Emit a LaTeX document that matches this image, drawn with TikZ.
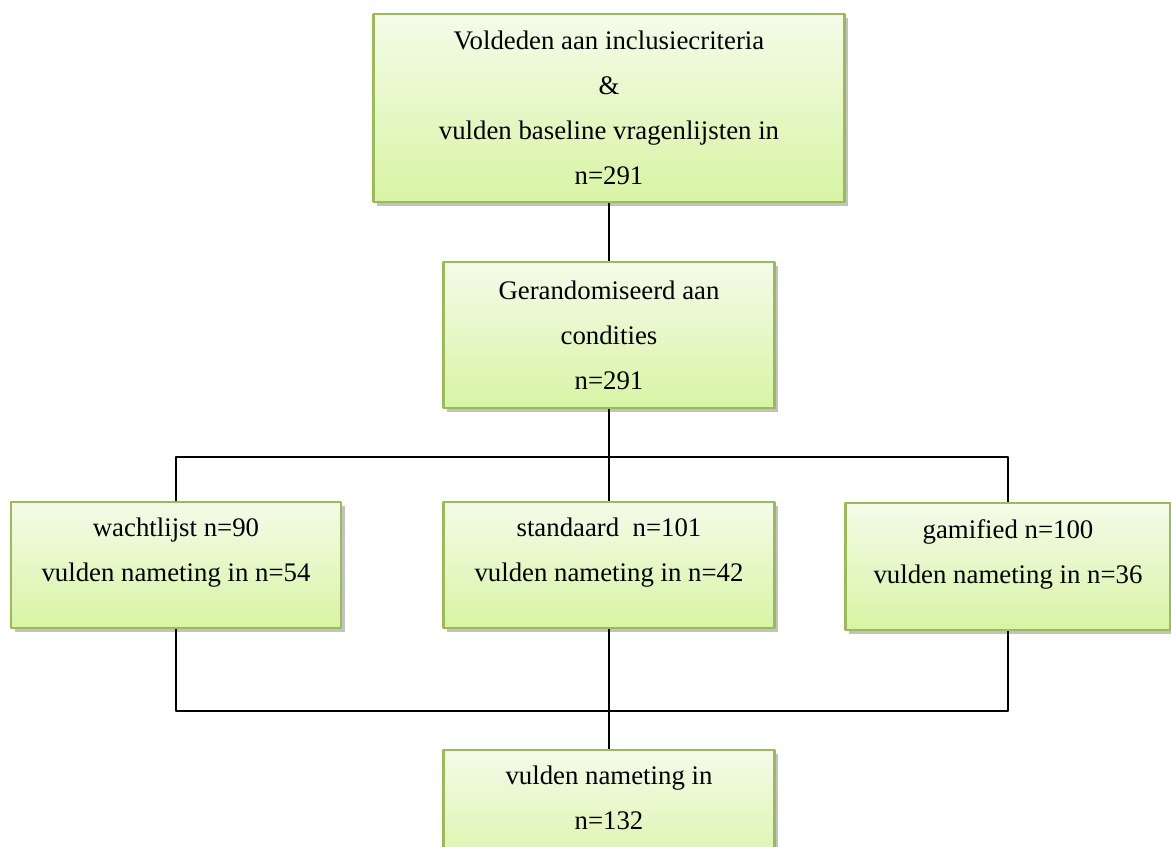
\documentclass[tikz,border=0pt]{standalone}
\usepackage{fontspec}
\setmainfont{Liberation Serif}
\usetikzlibrary{shadows}
\definecolor{boxtop}{HTML}{F4FBE9}
\definecolor{boxbot}{HTML}{D8F4A4}
\definecolor{boxline}{HTML}{9BBB59}
\tikzset{
	flowbox/.style={draw=boxline, line width=1.2pt, top color=boxtop, bottom color=boxbot,
		drop shadow={shadow xshift=1.8pt, shadow yshift=-1.8pt, opacity=0.4, fill=black!60},
		align=center, font=\fontsize{13.4}{22.5}\selectfont, inner sep=2pt},
	lowtext/.style={text depth=15pt},
	conn/.style={draw=black, line width=0.8pt}
}
\begin{document}
\begin{tikzpicture}[x=0.5pt,y=-0.5pt, line join=round]
			\useasboundingbox (0,0) rectangle (1171,846);
			\node[flowbox, minimum width=235.5pt, minimum height=94pt] (incl) at (609,108)
				{Voldeden aan inclusiecriteria\\\&\\vulden baseline vragenlijsten in\\n=291};
			\node[flowbox, minimum width=165.5pt, minimum height=73pt] (rand) at (609,335)
				{Gerandomiseerd aan\\condities\\n=291};
			\node[flowbox, lowtext, minimum width=165pt, minimum height=63pt] (wacht) at (176,565)
				{wachtlijst n=90\\vulden nameting in n=54};
			\node[flowbox, lowtext, minimum width=165.5pt, minimum height=63pt] (stand) at (609,565)
				{standaard~ n=101\\vulden nameting in n=42};
			\node[flowbox, lowtext, minimum width=162.5pt, minimum height=63.5pt] (gami) at (1008,566.5)
				{gamified n=100\\vulden nameting in n=36};
			\node[flowbox, lowtext, minimum width=165.5pt, minimum height=63pt] (meting) at (609,813)
				{vulden nameting in\\n=132};
			\coordinate (bar) at (609,457);
			\coordinate (join) at (609,711);
			\draw[conn] (incl) -- (rand);
			\draw[conn] (rand) -- (stand);
			\draw[conn] (wacht.north) |- (gami.north |- bar) -- (gami.north);
			\draw[conn] (wacht.south) |- (gami.south |- join) -- (gami.south);
			\draw[conn] (stand) -- (meting);
		\end{tikzpicture}
\end{document}
